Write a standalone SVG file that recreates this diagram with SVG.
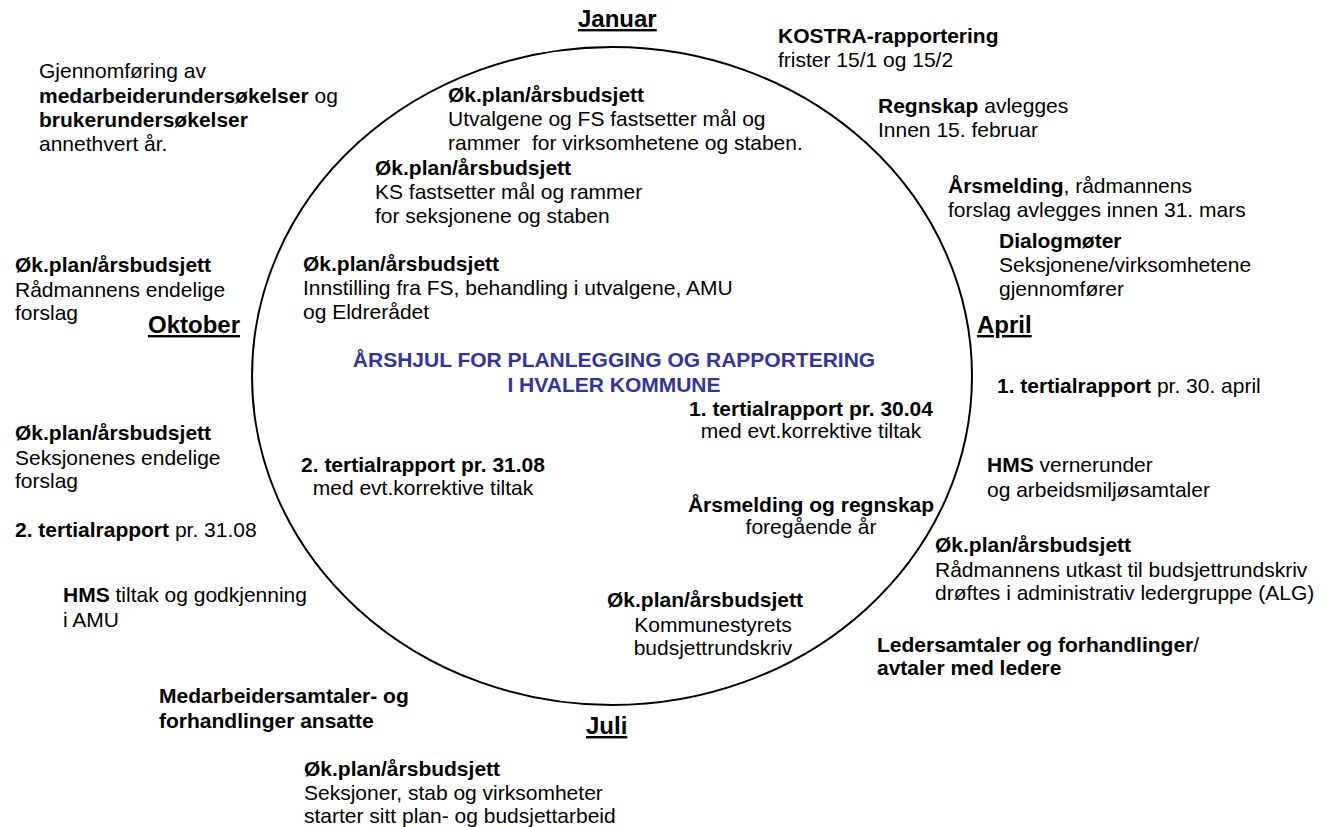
<svg xmlns="http://www.w3.org/2000/svg" width="1335" height="827" viewBox="0 0 1335 827">
<style>
text{font-family:"Liberation Sans",Arial,sans-serif;font-size:21px;fill:#000;white-space:pre}
.b{font-weight:bold}
.m{font-size:24px;font-weight:bold;text-decoration:underline}
.t{fill:#33339c;font-weight:bold;text-anchor:middle}
.c{text-anchor:middle}
.wheel{fill:none;stroke:#000;stroke-width:2}
</style>
<rect width="1335" height="827" fill="#fff"/>
<g id="connectors">
<ellipse class="wheel" cx="612" cy="376" rx="360" ry="329"/>
</g>
<g id="months">
<text class="m" x="578" y="27">Januar</text>
<text class="m" x="977" y="333">April</text>
<text class="m" x="586" y="734">Juli</text>
<text class="m" x="148" y="333">Oktober</text>
</g>
<g id="title">
<text class="t" x="614" y="367">ÅRSHJUL FOR PLANLEGGING OG RAPPORTERING</text>
<text class="t" x="614" y="392">I HVALER KOMMUNE</text>
</g>
<g id="undersokelser">
<text x="39" y="78">Gjennomføring av</text>
<text x="39" y="103"><tspan class="b">medarbeiderundersøkelser</tspan> og</text>
<text x="39" y="127" class="b">brukerundersøkelser</text>
<text x="39" y="151">annethvert år.</text>
</g>
<g id="utvalgene">
<text x="448" y="102" class="b">Øk.plan/årsbudsjett</text>
<text x="448" y="126">Utvalgene og FS fastsetter mål og</text>
<text x="448" y="150">rammer  for virksomhetene og staben.</text>
</g>
<g id="ks">
<text x="375" y="175" class="b">Øk.plan/årsbudsjett</text>
<text x="375" y="199">KS fastsetter mål og rammer</text>
<text x="375" y="223">for seksjonene og staben</text>
</g>
<g id="innstilling">
<text x="303" y="271" class="b">Øk.plan/årsbudsjett</text>
<text x="303" y="295">Innstilling fra FS, behandling i utvalgene, AMU</text>
<text x="303" y="319">og Eldrerådet</text>
</g>
<g id="kostra">
<text x="778" y="43" class="b">KOSTRA-rapportering</text>
<text x="778" y="67">frister 15/1 og 15/2</text>
</g>
<g id="regnskap">
<text x="878" y="113"><tspan class="b">Regnskap</tspan> avlegges</text>
<text x="878" y="137">Innen 15. februar</text>
</g>
<g id="arsmelding">
<text x="948" y="193"><tspan class="b">Årsmelding</tspan>, rådmannens</text>
<text x="948" y="217">forslag avlegges innen 31. mars</text>
</g>
<g id="dialogmoter">
<text x="999" y="248" class="b">Dialogmøter</text>
<text x="999" y="272">Seksjonene/virksomhetene</text>
<text x="999" y="296">gjennomfører</text>
</g>
<g id="tertial1-out">
<text x="997" y="393"><tspan class="b">1. tertialrapport</tspan> pr. 30. april</text>
</g>
<g id="hms-verne">
<text x="987" y="472"><tspan class="b">HMS</tspan> vernerunder</text>
<text x="987" y="497">og arbeidsmiljøsamtaler</text>
</g>
<g id="radmann-utkast">
<text x="935" y="552" class="b">Øk.plan/årsbudsjett</text>
<text x="935" y="577">Rådmannens utkast til budsjettrundskriv</text>
<text x="935" y="600">drøftes i administrativ ledergruppe (ALG)</text>
</g>
<g id="ledersamtaler">
<text x="877" y="652"><tspan class="b">Ledersamtaler og forhandlinger</tspan>/</text>
<text x="877" y="675" class="b">avtaler med ledere</text>
</g>
<g id="radmann-endelig">
<text x="15" y="272" class="b">Øk.plan/årsbudsjett</text>
<text x="15" y="297">Rådmannens endelige</text>
<text x="15" y="320">forslag</text>
</g>
<g id="seksjon-endelig">
<text x="15" y="440" class="b">Øk.plan/årsbudsjett</text>
<text x="15" y="465">Seksjonenes endelige</text>
<text x="15" y="488">forslag</text>
</g>
<g id="tertial2-out">
<text x="15" y="537"><tspan class="b">2. tertialrapport</tspan> pr. 31.08</text>
</g>
<g id="hms-tiltak">
<text x="63" y="602"><tspan class="b">HMS</tspan> tiltak og godkjenning</text>
<text x="63" y="627">i AMU</text>
</g>
<g id="medarbeidersamtaler">
<text x="159" y="703" class="b">Medarbeidersamtaler- og</text>
<text x="159" y="728" class="b">forhandlinger ansatte</text>
</g>
<g id="plan-start">
<text x="304" y="776" class="b">Øk.plan/årsbudsjett</text>
<text x="304" y="800">Seksjoner, stab og virksomheter</text>
<text x="304" y="823">starter sitt plan- og budsjettarbeid</text>
</g>
<g id="tertial1-in">
<text class="c b" x="811" y="416">1. tertialrapport pr. 30.04</text>
<text class="c" x="811" y="438">med evt.korrektive tiltak</text>
</g>
<g id="tertial2-in">
<text class="c b" x="423" y="472">2. tertialrapport pr. 31.08</text>
<text class="c" x="423" y="495">med evt.korrektive tiltak</text>
</g>
<g id="arsmelding-in">
<text class="c b" x="811" y="512">Årsmelding og regnskap</text>
<text class="c" x="811" y="534">foregående år</text>
</g>
<g id="kommunestyret">
<text class="c b" x="705" y="607">Øk.plan/årsbudsjett</text>
<text class="c" x="713" y="632">Kommunestyrets</text>
<text class="c" x="713" y="655">budsjettrundskriv</text>
</g>
</svg>
